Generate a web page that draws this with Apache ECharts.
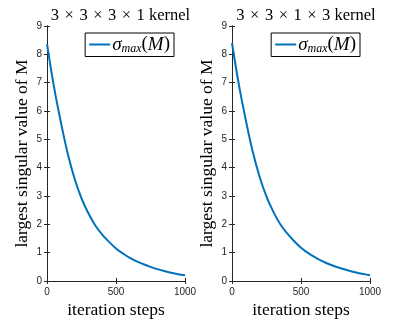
<!DOCTYPE html>
<html lang="en">
<head>
    <meta charset="UTF-8">
    <title>largest singular value vs iteration steps</title>
    <script src="https://cdn.jsdelivr.net/npm/echarts@6/dist/echarts.min.js"></script>
    <style>
        html, body { margin: 0; padding: 0; background: #fff; }
        #main { width: 416px; height: 331px; }
    </style>
</head>
<body>
    <div id="main"></div>
    <script type="text/javascript">
        // data
        var titles = ['3\u2004×\u20043\u2004×\u20043\u2004×\u20041 kernel',
                      '3\u2004×\u20043\u2004×\u20041\u2004×\u20043 kernel'];
        var steps = [0, 50, 100, 150, 200, 250, 300, 350, 400, 450, 500,
                     550, 600, 650, 700, 750, 800, 850, 900, 950, 1000];
        var leftSigma = [8.37, 6.87, 5.62, 4.50, 3.61, 2.92, 2.39, 1.96, 1.64, 1.38, 1.15,
                         0.97, 0.82, 0.69, 0.59, 0.50, 0.42, 0.35, 0.29, 0.24, 0.20];
        var rightSigma = [8.40, 6.92, 5.68, 4.57, 3.68, 2.98, 2.44, 2.00, 1.68, 1.41, 1.17,
                          0.99, 0.84, 0.71, 0.60, 0.51, 0.43, 0.36, 0.30, 0.25, 0.20];
        var seriesName = 'sigma';

        var serif = '"Liberation Serif", "DejaVu Serif", serif';
        var sans = '"Liberation Sans", Arial, sans-serif';
        var axisColor = '#262626';
        var lineColor = '#0072BD';

        function pairs(ys) {
            return steps.map(function (s, i) { return [s, ys[i]]; });
        }

        var grids = [
            { left: 47, right: 231, top: 26, bottom: 50 },
            { left: 232, right: 46, top: 26, bottom: 50 }
        ];

        var xAxes = [], yAxes = [];
        [0, 1].forEach(function (g) {
            xAxes.push({
                type: 'value', gridIndex: g, min: 0, max: 1000, interval: 500,
                position: 'bottom',
                name: 'iteration steps', nameLocation: 'middle', nameGap: 18,
                nameTextStyle: { fontFamily: serif, fontSize: 17.5, color: '#000' },
                axisLine: { show: true, lineStyle: { color: axisColor, width: 1 } },
                axisTick: { show: true, inside: true, length: 3, lineStyle: { color: axisColor } },
                axisLabel: { fontFamily: sans, fontSize: 10, color: axisColor, margin: 6,
                             formatter: function (v) { return String(v); } },
                splitLine: { show: false }
            });
            xAxes.push({
                type: 'value', gridIndex: g, min: 0, max: 1000, interval: 500,
                position: 'top',
                axisLine: { show: true, lineStyle: { color: axisColor, width: 1 } },
                axisTick: { show: true, inside: true, length: 3, lineStyle: { color: axisColor } },
                axisLabel: { show: false },
                splitLine: { show: false }
            });
            yAxes.push({
                type: 'value', gridIndex: g, min: 0, max: 9, interval: 1,
                position: 'left',
                name: 'largest singular value of M', nameLocation: 'middle', nameGap: 16,
                nameTextStyle: { fontFamily: serif, fontSize: 17.5, color: '#000' },
                axisLine: { show: true, lineStyle: { color: axisColor, width: 1 } },
                axisTick: { show: true, inside: true, length: 3, lineStyle: { color: axisColor } },
                axisLabel: { fontFamily: sans, fontSize: 10, color: axisColor, margin: 5 },
                splitLine: { show: false }
            });
            yAxes.push({
                type: 'value', gridIndex: g, min: 0, max: 9, interval: 1,
                position: 'right',
                axisLine: { show: true, lineStyle: { color: axisColor, width: 1 } },
                axisTick: { show: true, inside: true, length: 3, lineStyle: { color: axisColor } },
                axisLabel: { show: false },
                splitLine: { show: false }
            });
        });

        var legendRich = {
            s: { fontFamily: serif, fontSize: 19, fontStyle: 'italic', color: '#000' },
            p: { fontFamily: serif, fontSize: 19, color: '#000' },
            sub: { fontFamily: serif, fontSize: 12, fontStyle: 'italic', color: '#000',
                   verticalAlign: 'bottom', padding: [8, 0, 0, 0] }
        };
        function legendFor(right) {
            return {
                data: [seriesName],
                right: right, top: 33, orient: 'vertical',
                icon: 'rect', itemWidth: 21, itemHeight: 2, itemGap: 0,
                padding: [2, 4, 2, 4],
                borderColor: '#000', borderWidth: 1, borderRadius: 0,
                backgroundColor: '#fff',
                selectedMode: false,
                formatter: function () { return '{s|σ}{sub|max}{p|(}{s|M}{p|)}'; },
                textStyle: { rich: legendRich, padding: [0, 0, 0, -3] }
            };
        }

        var myChart = echarts.init(document.getElementById('main'), null, { renderer: 'canvas' });
        var option = {
            backgroundColor: '#fff',
            animation: false,
            title: [
                { text: titles[0], left: 115.5, top: 2, textAlign: 'center',
                  textStyle: { fontFamily: serif, fontSize: 16.5, fontWeight: 'normal', color: '#000' } },
                { text: titles[1], left: 301, top: 2, textAlign: 'center',
                  textStyle: { fontFamily: serif, fontSize: 16.5, fontWeight: 'normal', color: '#000' } }
            ],
            legend: [legendFor(242), legendFor(56)],
            grid: grids,
            xAxis: xAxes,
            yAxis: yAxes,
            series: [
                { name: seriesName, type: 'line', xAxisIndex: 0, yAxisIndex: 0,
                  data: pairs(leftSigma), smooth: 0.4, symbol: 'none',
                  lineStyle: { color: lineColor, width: 2 }, itemStyle: { color: lineColor } },
                { name: seriesName, type: 'line', xAxisIndex: 2, yAxisIndex: 2,
                  data: pairs(rightSigma), smooth: 0.4, symbol: 'none',
                  lineStyle: { color: lineColor, width: 2 }, itemStyle: { color: lineColor } }
            ]
        };
        myChart.setOption(option);
    </script>
</body>
</html>
